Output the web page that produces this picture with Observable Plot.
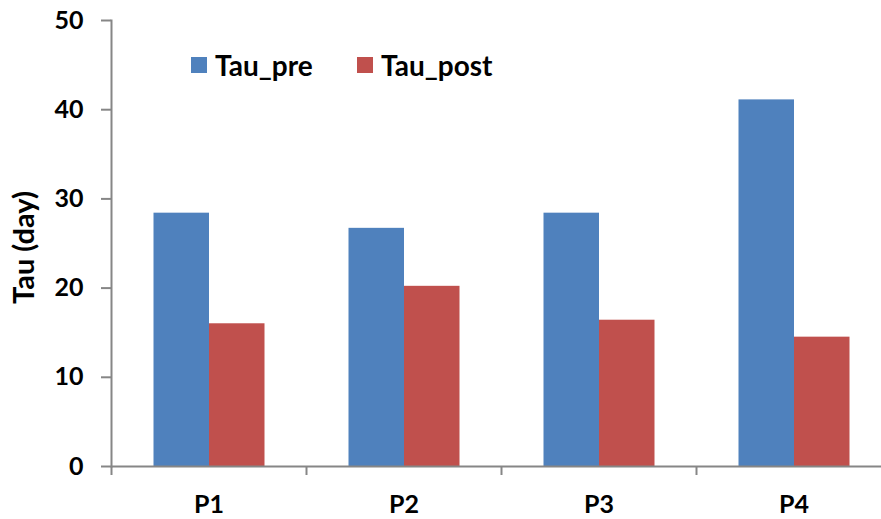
<!DOCTYPE html>
<html><head><meta charset="utf-8">
<script src="https://cdn.jsdelivr.net/npm/d3@7"></script>
<script src="https://cdn.jsdelivr.net/npm/@observablehq/plot@0.6"></script>
<style>
body{margin:0;background:#fff;}
#wrap{position:relative;width:881px;height:519px;overflow:hidden;background:#fff;font-family:Lato,"Open Sans",sans-serif;}
#wrap svg{max-width:none !important;}
.lg{position:absolute;top:48px;display:flex;align-items:center;font-size:28px;font-weight:700;color:#000;}
.sw{width:16px;height:16px;margin-right:8px;}
</style></head><body><div id="wrap"></div>
<script>
const categories = ["P1", "P2", "P3", "P4"];
const series = ["Tau_pre", "Tau_post"];
const tauPre = [28.4, 26.7, 28.4, 41.1];
const tauPost = [16.0, 20.2, 16.4, 14.5];
const yTicks = [0, 10, 20, 30, 40, 50];
const colors = ["#4F81BD", "#C0504D"];
const yLabel = "Tau (day)";

const data = categories.flatMap((c, i) => [
  {cat: c, series: series[0], value: tauPre[i]},
  {cat: c, series: series[1], value: tauPost[i]}
]);

const W = 891, ML = 111, MR = 0;
const bw = (W - ML - MR) / categories.length;
const barW = 55.5, outer = 42.5;
const axisColor = "#868686";
const FS = 25;

const chart = Plot.plot({
  width: W, height: 519,
  marginLeft: ML, marginRight: MR, marginTop: 20, marginBottom: 53,
  style: {fontFamily: "Lato, 'Open Sans', sans-serif", fontSize: FS + "px", fontWeight: 700, color: "#000", background: "#fff", maxWidth: "none"},
  x: {domain: categories, padding: 0},
  y: {domain: [0, 50], ticks: yTicks},
  color: {domain: series, range: colors},
  marks: [
    Plot.barY(data.filter(d => d.series === series[0]), {x: "cat", y: "value", fill: "series", insetLeft: outer, insetRight: bw - outer - barW}),
    Plot.barY(data.filter(d => d.series === series[1]), {x: "cat", y: "value", fill: "series", insetLeft: outer + barW, insetRight: bw - outer - 2 * barW}),
    Plot.frame({anchor: "left", stroke: axisColor, strokeWidth: 2}),
    Plot.ruleY([0], {stroke: axisColor, strokeWidth: 2}),
    Plot.axisX({text: null, tickSize: 9, dx: -bw / 2, stroke: axisColor, strokeWidth: 2, label: null}),
    Plot.axisX({tickSize: 0, tickPadding: 29, label: null, fill: "#000", fontSize: FS, fontWeight: 700}),
    Plot.axisY({ticks: yTicks, tickSize: 10, tickPadding: 18, stroke: axisColor, strokeWidth: 2, label: null, fill: "#000", fontSize: FS, fontWeight: 700}),
    Plot.text([yLabel], {frameAnchor: "left", textAnchor: "middle", dx: -98, dy: 4, rotate: -90, lineAnchor: "top", fill: "#000", fontSize: 29, fontWeight: 700})
  ]
});
const wrap = document.getElementById("wrap");
wrap.appendChild(chart);
[[0, 191], [1, 357]].forEach(([i, left]) => {
  const d = document.createElement("div");
  d.className = "lg";
  d.style.left = left + "px";
  d.innerHTML = `<div class="sw" style="background:${colors[i]}"></div><span>${series[i]}</span>`;
  wrap.appendChild(d);
});
</script></body></html>
